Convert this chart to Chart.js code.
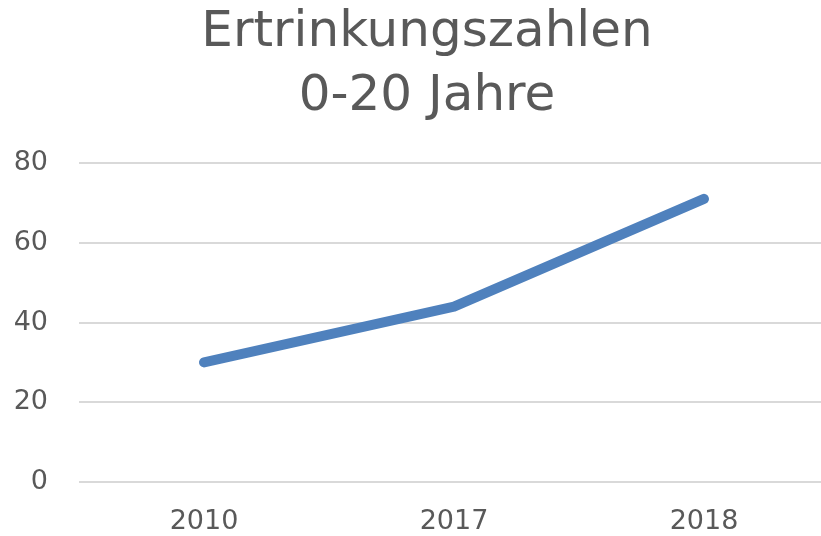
<!DOCTYPE html>
<html>
<head>
<meta charset="utf-8">
<script src="https://cdn.jsdelivr.net/npm/chart.js@4/dist/chart.umd.min.js"></script>
<style>
    html, body { margin: 0; padding: 0; background: #fff; overflow: hidden; }
    #wrap { width: 829px; height: 536px; }
</style>
</head>
<body>
<div id="wrap"><canvas id="chart"></canvas></div>
<script>
const years = ["2010", "2017", "2018"]
const drownings = [30, 44, 71]
const yTicks = [0, 20, 40, 60, 80]

const textGrey = "#595959"
const font = "'DejaVu Sans', Verdana, sans-serif"

const ctx = document.getElementById("chart").getContext("2d")

// the original title sits a bit right of the canvas centre
const shiftTitle = {
    id: "shiftTitle",
    afterLayout: (chart) => {
        if (chart.titleBlock) chart.titleBlock.left = 25
    },
}

new Chart(ctx, {
    type: "line",
    data: {
        labels: years,
        datasets: [
            {
                label: "Ertrinkungszahlen",
                data: drownings,
                borderColor: "#4f81bd",
                backgroundColor: "#4f81bd",
                borderWidth: 10,
                borderCapStyle: "round",
                borderJoinStyle: "round",
                pointRadius: 0,
                tension: 0,
                fill: false,
            },
        ],
    },
    options: {
        responsive: true,
        maintainAspectRatio: false,
        animation: false,
        layout: { padding: 0 },
        plugins: {
            legend: { display: false },
            tooltip: { enabled: false },
            title: {
                display: true,
                text: ["Ertrinkungszahlen", "0-20 Jahre"],
                color: textGrey,
                font: { family: font, size: 50, weight: "normal", lineHeight: 1.28 },
                padding: { top: 1, bottom: 34 },
            },
        },
        scales: {
            x: {
                offset: true,
                grid: { display: false, drawTicks: false },
                border: { display: false },
                ticks: {
                    color: textGrey,
                    font: { family: font, size: 27 },
                    padding: 24,
                    maxRotation: 0,
                },
                afterFit: (scale) => {
                    scale.height = 54
                },
            },
            y: {
                min: 0,
                max: 80,
                afterBuildTicks: (scale) => {
                    scale.ticks = yTicks.map((v) => ({ value: v }))
                },
                grid: { color: "#d9d9d9", lineWidth: 2, drawTicks: false },
                border: { display: false },
                ticks: {
                    color: textGrey,
                    font: { family: font, size: 27 },
                    padding: 31,
                },
                afterFit: (scale) => {
                    scale.width = 79
                },
            },
        },
    },
    plugins: [shiftTitle],
})
</script>
</body>
</html>
